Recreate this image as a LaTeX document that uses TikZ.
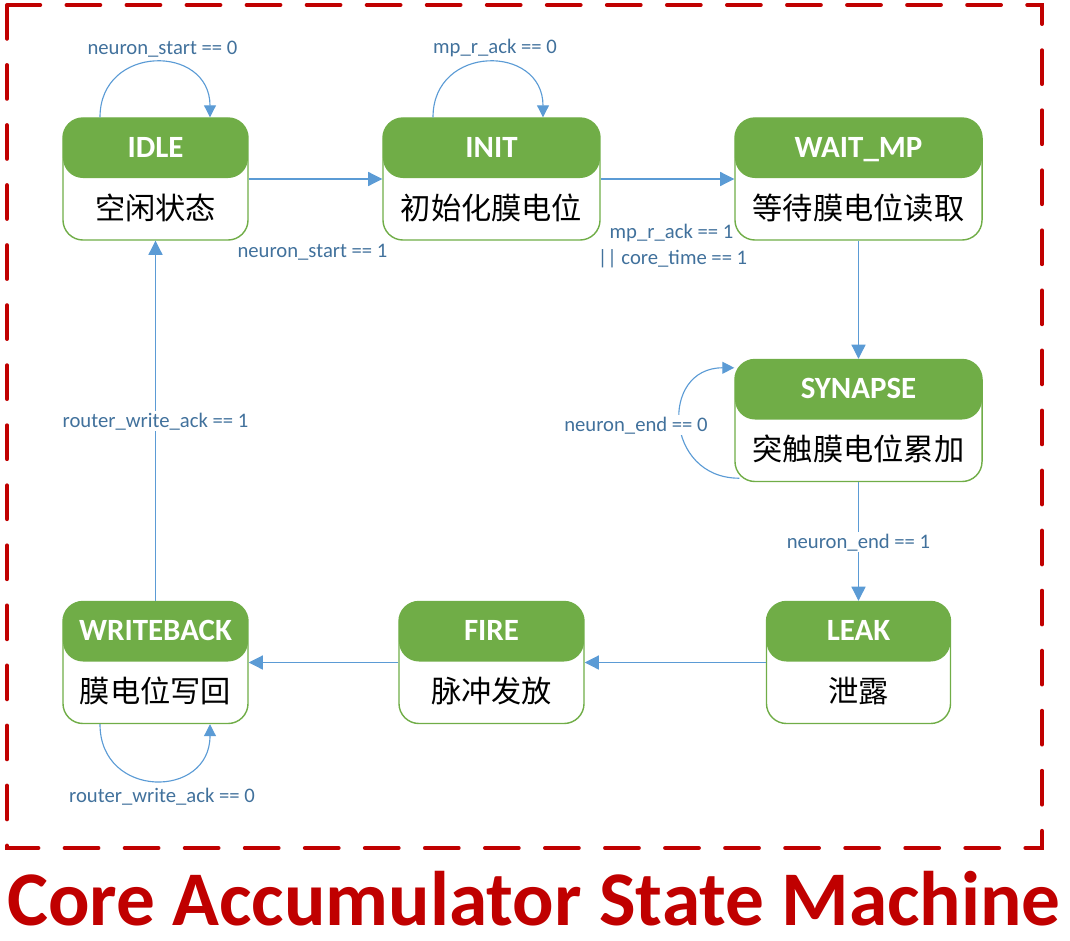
\documentclass[tikz,border=0pt]{standalone}
\usepackage{fontspec}
\setmainfont{Carlito}
\newfontfamily\cjk{Noto Sans CJK SC}
\usetikzlibrary{positioning,arrows.meta,calc}

\definecolor{stgreen}{HTML}{70AD47}
\definecolor{arrblue}{HTML}{5B9BD5}
\definecolor{lblblue}{HTML}{41719C}
\definecolor{framered}{HTML}{C00000}

\begin{document}
\begin{tikzpicture}[
  x=0.025cm, y=-0.025cm,
  state/.style={draw=stgreen, line width=1pt, rounded corners=0.5cm, fill=white,
    minimum height=3.05cm, inner sep=0pt,
    path picture={\fill[stgreen] (path picture bounding box.north west)
      rectangle ([yshift=-1.5cm]path picture bounding box.north east);}},
  hdr/.style={font=\fontsize{22}{26}\selectfont\bfseries, text=white, anchor=base, inner sep=0pt},
  cn/.style={font=\fontsize{21.5}{26}\selectfont\cjk, anchor=base, inner sep=0pt},
  lbl/.style={font=\fontsize{14.7}{18}\selectfont, text=lblblue, anchor=base, inner sep=1pt},
  lblw/.style={lbl, fill=white},
  arr/.style={draw=arrblue, line width=0.8pt, -{Triangle[length=10pt,width=10pt]}},
  loopy/.style={draw=arrblue, line width=0.8pt, -{Triangle[length=8.5pt,width=8.5pt]}},
  frame/.style={draw=framered, line width=2.85pt, line cap=round, dash pattern=on 24pt off 18.7pt}
]
\useasboundingbox (0,0) rectangle (1070,940);

% outer frame
\draw[frame] (7,5) rectangle (1042,848);

% states
\node[state, minimum width=4.625cm] (idle) at (155.5,179) {};
\node[hdr] (idle-h) at ($(idle.north)+(0,40)$) {IDLE};
\node[cn] (idle-c) at ($(idle.north)+(0,102)$) {空闲状态};

\node[state, minimum width=5.425cm] (init) at (491.5,179) {};
\node[hdr] (init-h) at ($(init.north)+(0,40)$) {INIT};
\node[cn] (init-c) at ($(init.north)+(0,102)$) {初始化膜电位};

\node[state, minimum width=6.175cm] (wait) at (858.5,179) {};
\node[hdr] (wait-h) at ($(wait.north)+(0,40)$) {WAIT\_MP};
\node[cn] (wait-c) at ($(wait.north)+(0,102)$) {等待膜电位读取};

\node[state, minimum width=6.175cm] (syn) at (858.5,420.5) {};
\node[hdr] (syn-h) at ($(syn.north)+(0,40)$) {SYNAPSE};
\node[cn] (syn-c) at ($(syn.north)+(0,102)$) {突触膜电位累加};

\node[state, minimum width=4.6cm] (leak) at (858.5,662.5) {};
\node[hdr] (leak-h) at ($(leak.north)+(0,40)$) {LEAK};
\node[cn] (leak-c) at ($(leak.north)+(0,102)$) {泄露};

\node[state, minimum width=4.625cm] (fire) at (491.5,662.5) {};
\node[hdr] (fire-h) at ($(fire.north)+(0,40)$) {FIRE};
\node[cn] (fire-c) at ($(fire.north)+(0,102)$) {脉冲发放};

\node[state, minimum width=4.625cm] (wb) at (155.5,662.5) {};
\node[hdr] (wb-h) at ($(wb.north)+(0,40)$) {WRITEBACK};
\node[cn] (wb-c) at ($(wb.north)+(0,102)$) {膜电位写回};

% transitions
\draw[arr] (idle.east) -- (init.west);
\draw[arr] (init.east) -- (wait.west);
\draw[arr] (wait.south) -- (syn.north);
\draw[arr] (syn.south) -- (leak.north);
\draw[arr] (leak.west) -- (fire.east);
\draw[arr] (fire.west) -- (wb.east);
\draw[arr] (wb.north) -- (idle.south);

% self loops
\draw[loopy] ($(idle.north)+(-55.5,0)$) .. controls +(0,-73.3) and +(0,-73.3) .. ($(idle.north)+(54.5,0)$);
\draw[loopy] ($(init.north)+(-58.5,0)$) .. controls +(0,-73.3) and +(0,-73.3) .. ($(init.north)+(51.5,0)$);
\draw[loopy] ($(syn.south west)+(5,-4)$) .. controls +(-75,0) and +(-75,0) .. ($(syn.north west)+(0,9)$);
\draw[loopy] ($(wb.south)+(-55.5,0)$) .. controls +(0,75) and +(0,75) .. ($(wb.south)+(54.5,0)$);

% conditions
\node[lbl] (c-idle) at (162.5,54) {neuron\_start == 0};
\node[lbl] (c-start) at (312.5,257) {neuron\_start == 1};
\node[lbl] (c-init) at (495,53) {mp\_r\_ack == 0};
\node[lbl] (c-ack) at (671.5,238) {mp\_r\_ack == 1};
\node[lbl] (c-time) at (672.5,264) {|| core\_time == 1};
\node[lblw] (c-syn) at (636,431) {neuron\_end == 0};
\node[lblw] (c-end) at (858.5,548) {neuron\_end == 1};
\node[lblw] (c-wr) at (155.5,427) {router\_write\_ack == 1};
\node[lbl] (c-wb) at (162,802) {router\_write\_ack == 0};

% caption
\node[font=\fontsize{55}{60}\selectfont\bfseries, text=framered, anchor=base, inner sep=0pt] (title) at (534,925) {Core Accumulator State Machine};

\end{tikzpicture}
\end{document}
